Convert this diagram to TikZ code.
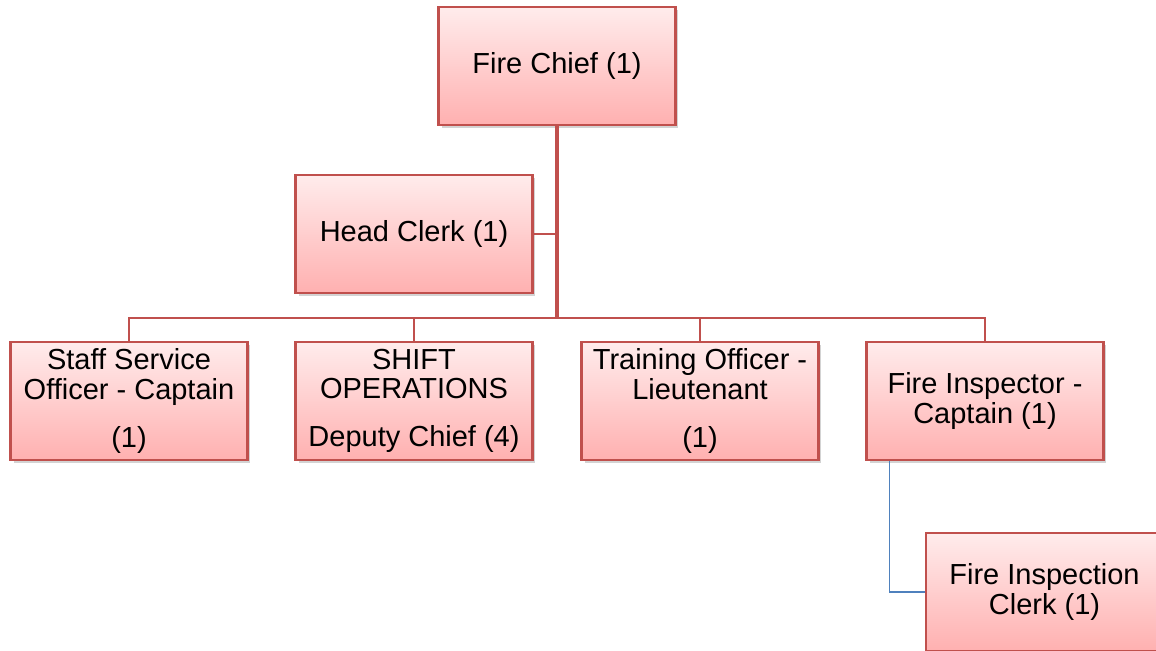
\documentclass[tikz,border=0pt]{standalone}
\usepackage{fontspec}
\setmainfont{Liberation Sans}
\usepackage{tikz}
\newcommand{\nodewidth}{4.74cm}
\newcommand{\nodeheight}{2.36cm}
\definecolor{myRed}{RGB}{192,80,77}
\definecolor{myPinkTop}{RGB}{255,236,236}
\definecolor{myPinkBot}{RGB}{255,176,176}
\definecolor{myBlue}{RGB}{79,129,189}
\usetikzlibrary{calc,positioning,shadows}
\tikzset{
  font=\fontsize{16.5}{16.8}\selectfont,
  rect/.style={draw=myRed,line width=1.2pt,top color=myPinkTop,bottom color=myPinkBot,shape=rectangle,minimum width=\nodewidth,minimum height=\nodeheight,inner sep=1mm,align=center,drop shadow={shadow xshift=0.06cm,shadow yshift=-0.06cm,opacity=0.35}},
  line/.style={draw=myRed,line width=1.2pt},
  trunk/.style={draw=myRed,line width=2.2pt},
  bline/.style={draw=myBlue,line width=1pt},
}
\begin{document}
\begin{tikzpicture}[x=0.02cm,y=-0.02cm]
      \useasboundingbox (0,0) rectangle (1156,650);
      \node (chief) [rect] at (557,66) {Fire Chief (1)};
      \node (clerk) [rect] at (414,234) {Head Clerk (1)};
      \node (staff) [rect] at (129,401) {Staff Service\\Officer - Captain\\[10.5pt](1)};
      \node (shift) [rect] at (414,401) {SHIFT\\OPERATIONS\\[10.5pt]Deputy Chief (4)};
      \node (train) [rect] at (700,401) {Training Officer -\\Lieutenant\\[10.5pt](1)};
      \node (insp) [rect] at (985,401) {Fire Inspector -\\Captain (1)};
      \node (iclerk) [rect] at (1044.5,592) {Fire Inspection\\Clerk (1)};
      \coordinate (bus) at (557,318);
      \path [line] (clerk.east) -- (clerk.east -| chief.south);
      \path [line] (staff.north) |- (bus) -| (insp.north);
      \path [line] (shift.north) -- (shift.north |- bus);
      \path [line] (train.north) -- (train.north |- bus);
      \path [trunk] (chief.south) -- (bus);
      \path [bline] ([xshift=0.48cm]insp.south west) |- (iclerk.west);
    \end{tikzpicture}
\end{document}
